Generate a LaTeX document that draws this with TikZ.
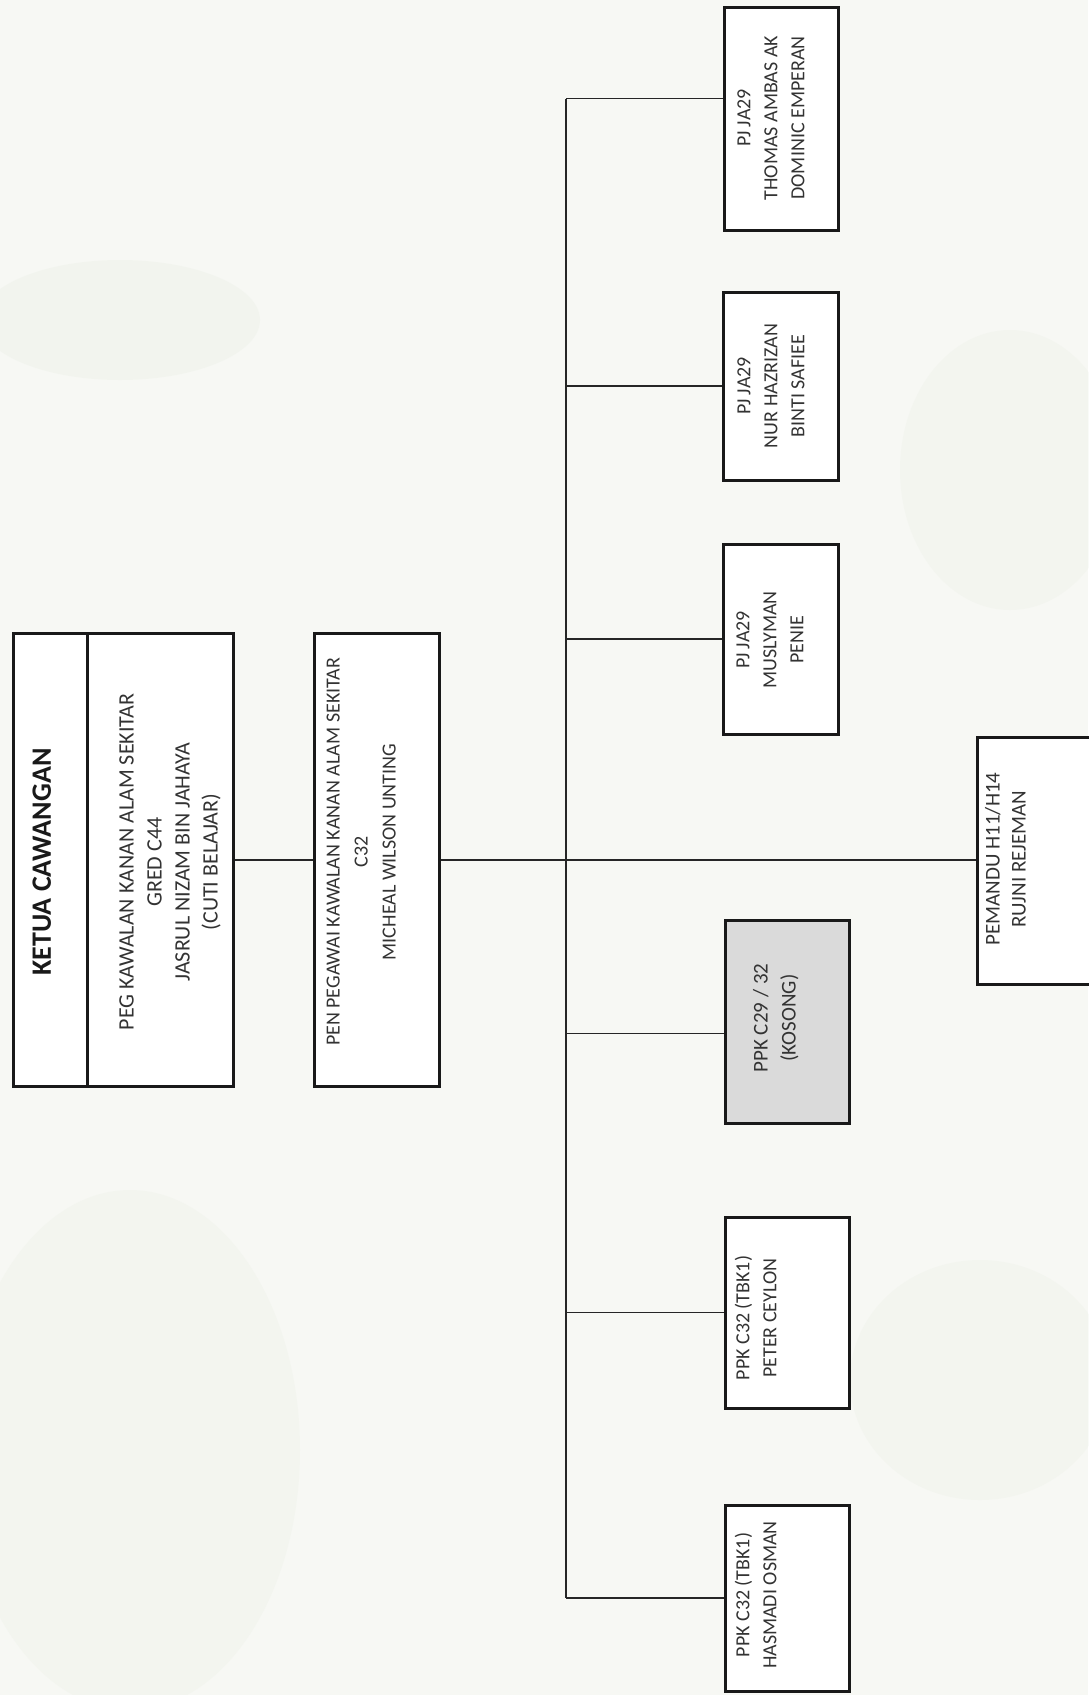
\documentclass[tikz,border=0pt]{standalone}
\usepackage{fontspec}
\setmainfont{Carlito}
\definecolor{bgc}{RGB}{247,248,244}
\definecolor{blob}{RGB}{232,238,226}
\definecolor{vacant}{RGB}{218,218,218}
\newcommand{\rtext}[1]{\rotatebox{90}{\begin{tabular}{@{}c@{}}#1\end{tabular}}}
\begin{document}
\begin{tikzpicture}[x=1pt,y=-1pt,
  box/.style={draw=black!90, line width=3pt, fill=white, inner sep=0pt},
  conn/.style={draw=black!85, line width=1.8pt},
  txt/.style={inner sep=0pt, text=black!80, font=\fontsize{20}{27}\selectfont}]
\useasboundingbox (0,0) rectangle (1088,1695);
\fill[bgc] (0,0) rectangle (1088,1695);
% faint background wash
\fill[blob, opacity=0.3] (120,320) ellipse [x radius=140, y radius=60];
\fill[blob, opacity=0.25] (130,1450) ellipse [x radius=170, y radius=260];
\fill[blob, opacity=0.25] (1010,470) ellipse [x radius=110, y radius=140];
\fill[blob, opacity=0.25] (980,1380) ellipse [x radius=130, y radius=120];

% boxes
\node[box, minimum width=74pt, minimum height=453pt] (ketua) at (50,860) {};
\node[box, minimum width=146pt, minimum height=453pt] (peg) at (160,860) {};
\node[box, minimum width=125pt, minimum height=453pt] (pen) at (376.5,860) {};
\node[box, minimum width=114pt, minimum height=223pt] (thomas) at (781,118.5) {};
\node[box, minimum width=115pt, minimum height=188pt] (nur) at (780.5,386) {};
\node[box, minimum width=115pt, minimum height=190pt] (musl) at (780.5,639) {};
\node[box, fill=vacant, minimum width=124pt, minimum height=203pt] (ppk) at (787,1021.5) {};
\node[box, minimum width=124pt, minimum height=191pt] (peter) at (787,1312.5) {};
\node[box, minimum width=124pt, minimum height=186pt] (hasmadi) at (787,1598) {};
\node[box, minimum width=133pt, minimum height=247pt] (pemandu) at (1043.5,861) {};

% texts
\node[txt, font=\bfseries\fontsize{28}{34}\selectfont, text=black!90] (ketuat) at (44,862) {\rtext{KETUA CAWANGAN}};
\node[txt, font=\fontsize{22}{28}\selectfont] (pegt) at (170,862) {\rtext{PEG KAWALAN KANAN ALAM SEKITAR\\GRED C44\\JASRUL NIZAM BIN JAHAYA\\(CUTI BELAJAR)}};
\node[txt, font=\fontsize{20}{28}\selectfont] (pent) at (362,852) {\rtext{PEN PEGAWAI KAWALAN KANAN ALAM SEKITAR\\C32\\MICHEAL WILSON UNTING}};
\node[txt] (thomast) at (772,118) {\rtext{PJ JA29\\THOMAS AMBAS AK\\DOMINIC EMPERAN}};
\node[txt] (nurt) at (772,386) {\rtext{PJ JA29\\NUR HAZRIZAN\\BINTI SAFIEE}};
\node[txt] (muslt) at (771,640) {\rtext{PJ JA29\\MUSLYMAN\\PENIE}};
\node[txt, font=\fontsize{21}{28}\selectfont] (ppkt) at (776,1018) {\rtext{PPK C29 / 32\\(KOSONG)}};
\node[txt] (petert) at (757.5,1318) {\rtext{PPK C32 (TBK1)\\PETER CEYLON}};
\node[txt] (hasmadit) at (757.5,1595) {\rtext{PPK C32 (TBK1)\\HASMADI OSMAN}};
\node[txt, font=\fontsize{21}{26}\selectfont] (pemandut) at (1007.5,859) {\rtext{PEMANDU H11/H14\\RUJNI REJEMAN}};

% connectors
\coordinate (trunk) at (566,860);
\coordinate (thomasc) at ([yshift=20pt]thomas.west);
\coordinate (ppkc) at ([yshift=-12pt]ppk.west);
\draw[conn] (peg.east) -- (pen.west);
\draw[conn] (pen.east) -- (pemandu.west |- pen.east);
\draw[conn] (thomasc -| trunk) -- (hasmadi.west -| trunk);
\draw[conn] (thomasc -| trunk) -- (thomasc);
\draw[conn] (nur.west -| trunk) -- (nur.west);
\draw[conn] (musl.west -| trunk) -- (musl.west);
\draw[conn] (ppkc -| trunk) -- (ppkc);
\draw[conn] (peter.west -| trunk) -- (peter.west);
\draw[conn] (hasmadi.west -| trunk) -- (hasmadi.west);
\end{tikzpicture}
\end{document}
